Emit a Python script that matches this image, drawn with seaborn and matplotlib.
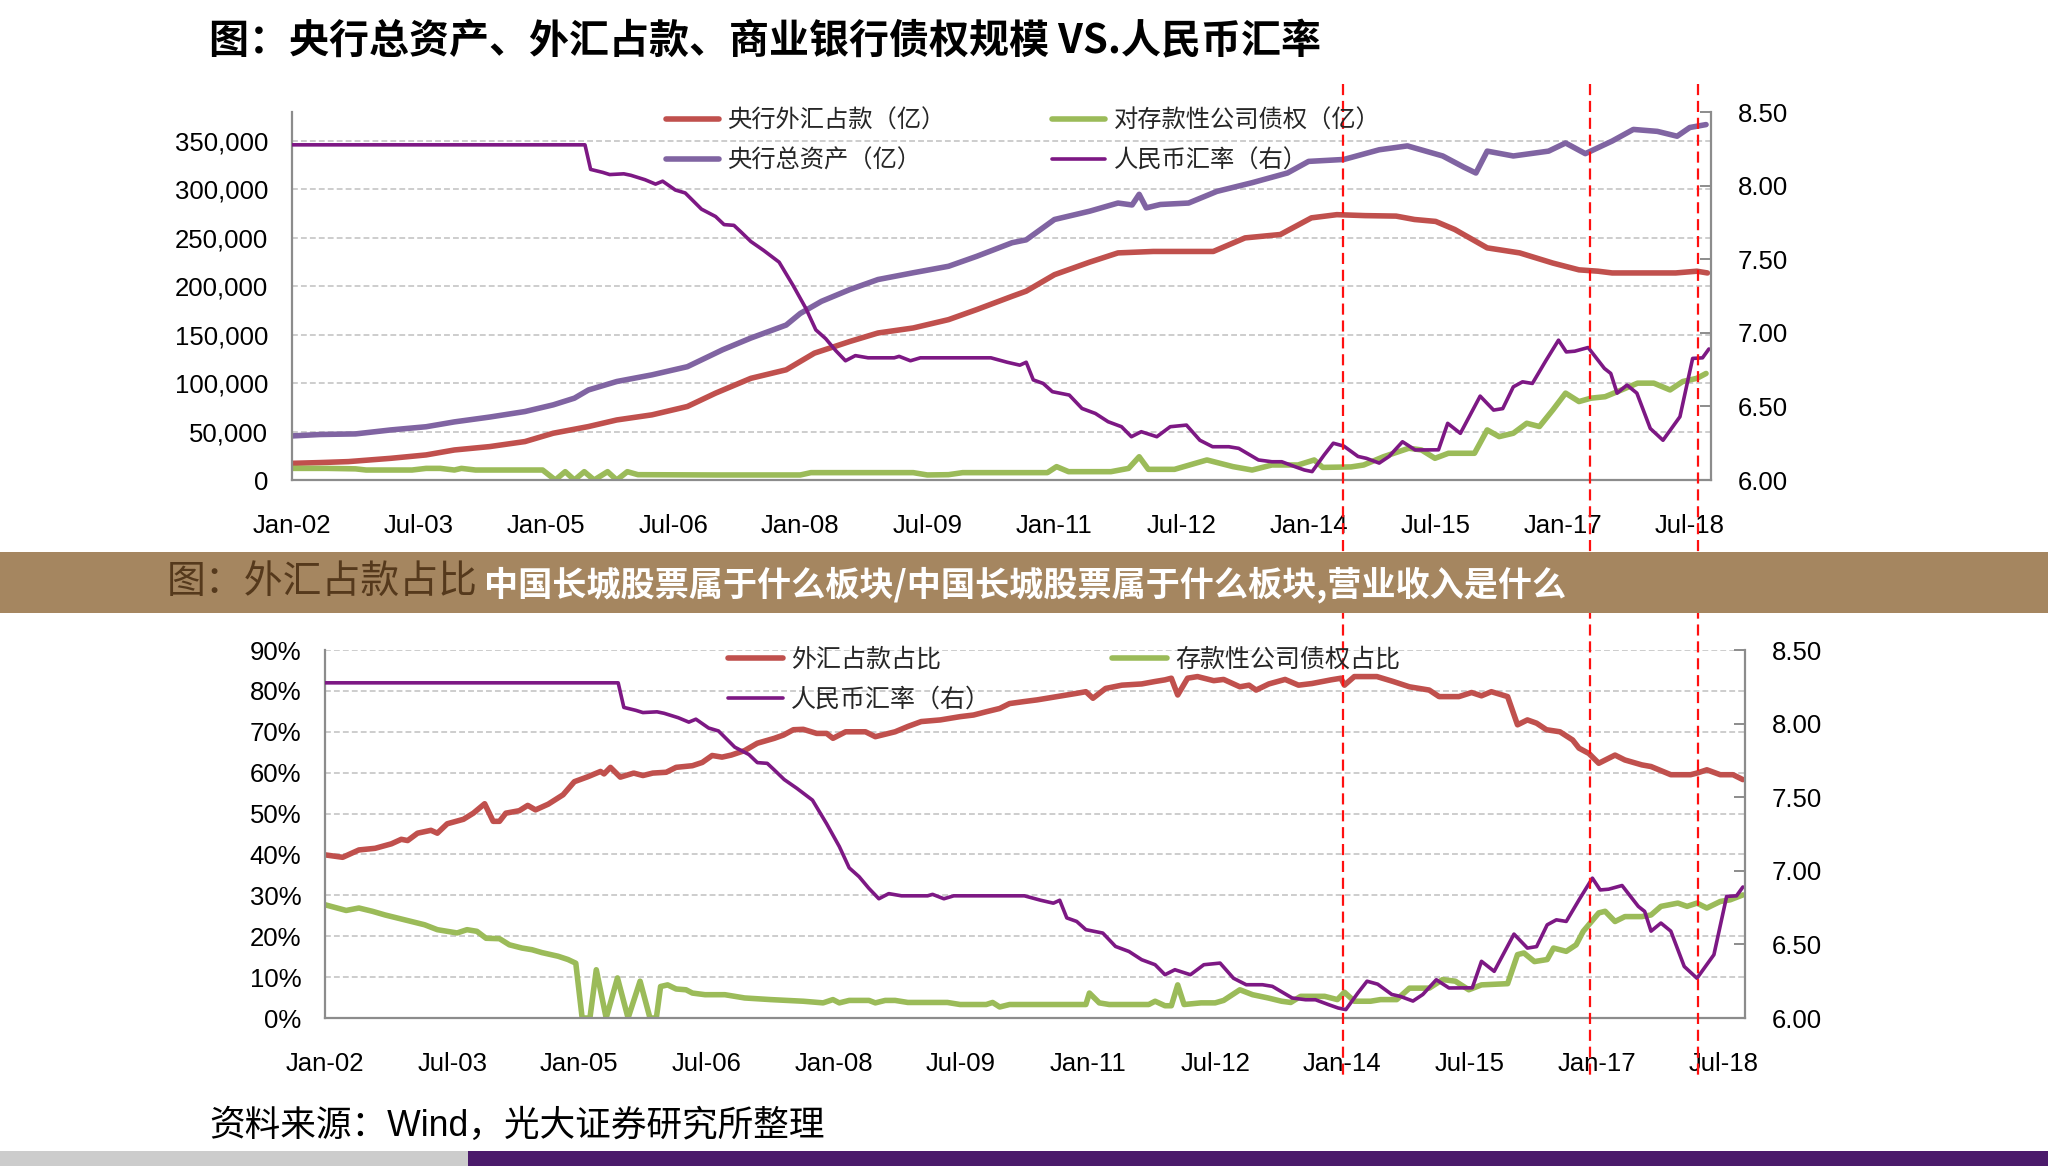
import matplotlib
matplotlib.use("Agg")
import matplotlib.pyplot as plt
import seaborn as sns
from matplotlib.lines import Line2D
from matplotlib.patches import Rectangle
from matplotlib import transforms
from matplotlib.ticker import FuncFormatter

# ---------------- data (x = months since Jan-2002) ----------------
tick_months = [0, 18, 36, 54, 72, 90, 108, 126, 144, 162, 180, 198]
tick_labels = ["Jan-02", "Jul-03", "Jan-05", "Jul-06", "Jan-08", "Jul-09",
               "Jan-11", "Jul-12", "Jan-14", "Jul-15", "Jan-17", "Jul-18"]

# top chart: PBoC total assets (亿)
assets_m = [0, 4, 9, 14, 19, 23, 28, 33, 37, 40, 42, 46, 51, 56, 58, 61, 65, 70, 72, 75,
            79, 83, 88, 93, 97, 102, 104, 108, 113, 117, 119, 120, 121, 123, 127, 131, 136, 141, 144, 149,
            154, 158, 163, 166, 167.7, 169.3, 173, 178, 180.4, 183.2, 187, 190, 193.4, 196.2, 198, 200.3]
assets_v = [45500, 47000, 47600, 51700, 55000, 60000, 65000, 70700, 77600, 84500,
            93000, 101700, 108600, 117000, 124000, 134500, 146600, 160000, 172000, 184500,
            196600, 207000, 214000, 220700, 231000, 245000, 248000, 269000, 277600, 286000,
            284000, 295000, 281000, 284500, 286000, 298000, 307000, 317000, 329000, 331000,
            341000, 345000, 334600, 323000, 317000, 339600, 334600, 339600, 348000, 337000,
            350000, 362000, 360000, 355000, 364000, 367000]

# top chart: PBoC FX holdings (亿)
fx_m = [0, 4, 8, 14, 19, 23, 28, 33, 37, 42, 46, 51, 56, 60, 65, 70, 74, 79, 83, 88,
        93, 97, 102, 104, 108, 113, 117, 122, 127, 130.5, 135, 140, 144.4, 148, 152, 156.4, 159, 162, 164.7, 169.3,
        173.9, 178.6, 182.3, 185, 187, 196, 199, 200.5]
fx_v = [17200, 18000, 19000, 22400, 25900, 31000, 34500, 39700, 48300, 55200,
        62000, 67300, 75900, 89700, 105000, 113800, 131000, 143000, 151800, 157000,
        165600, 176000, 189700, 195000, 212000, 225000, 234500, 236000, 236000, 236000,
        250000, 253500, 270700, 274000, 273000, 272500, 269000, 267000, 258700, 239700,
        234500, 224000, 217000, 215600, 213800, 213800, 215600, 213800]

# top chart: claims on depository corporations (亿)
claims_m = [0, 5, 9, 10.5, 14, 17, 19, 21, 23, 24, 26, 35.5, 37.3, 38.7, 40, 41.4, 42.8, 44.7, 46, 47.5,
            49, 60, 72, 73.5, 88, 90, 93, 95, 103, 107, 108.3, 110, 116, 118.5, 120, 121.3, 125, 129.6, 133.3, 136,
            138.8, 142.5, 144.8, 146, 150, 151.8, 154.6, 158.2, 160, 161.9, 163.8, 167.5, 169.3, 171, 173, 174.9,
            176.7, 178.6, 180.4, 182.3, 184, 186, 187.8, 190.6, 192.9, 195.2, 197, 199, 200.3]
claims_v = [12000, 12000, 11500, 10300, 10300, 10300, 12000, 12000, 10300, 12000,
            10300, 10300, 0, 8600, 0, 8600, 0, 8600, 0, 8600,
            5500, 5200, 5200, 7600, 7600, 5200, 5500, 7600, 7600, 7600,
            13800, 8600, 8600, 12000, 24000, 11000, 11000, 20700, 13800, 10300,
            15500, 15500, 20700, 13000, 13500, 15500, 24000, 32800, 31000, 22400,
            27600, 27600, 51700, 44800, 48300, 58600, 55200, 72400, 89700, 81000,
            84500, 86000, 91400, 100000, 100000, 93000, 101700, 105000, 110000]

# RMB exchange rate (right axis, both charts)
cny_m = [0, 41.5, 42.3, 44, 45, 47, 48, 50, 51.5, 52.5, 54.3, 55.7, 58, 60, 61.2, 62.6, 63.6, 65, 66.8, 69,
         71, 72.8, 74.2, 75.6, 77, 78.4, 79.8, 81.6, 85.3, 86, 87.6, 89, 99, 101.3, 103.1, 104, 105, 106.4, 107.7, 110.1,
         111.9, 113.8, 115.6, 117.5, 118.9, 120.3, 122.5, 124.4, 126.7, 128.6, 130.4, 132.7, 134.1, 136.9, 138.8, 140.2,
         142.1, 143.4, 144.5, 146.2, 147.5, 149, 151, 152.2, 154, 155.4, 157.3, 159.1, 162.4, 163.7, 165.5, 168.3,
         170.2, 171.5, 173, 174.3, 175.7, 177.6, 179.4, 180.5, 181.7, 183.6, 185.9, 186.8, 187.7, 189.1, 190.5, 192.4,
         194.2, 196.6, 198.4, 199.8, 200.7]
cny_v = [8.277, 8.277, 8.11, 8.09, 8.075, 8.08, 8.07, 8.04, 8.01, 8.03,
         7.97, 7.95, 7.84, 7.79, 7.735, 7.73, 7.685, 7.62, 7.56, 7.48,
         7.32, 7.165, 7.02, 6.96, 6.88, 6.81, 6.845, 6.83, 6.83, 6.84,
         6.81, 6.83, 6.83, 6.80, 6.78, 6.80, 6.68, 6.656, 6.60, 6.577,
         6.486, 6.452, 6.396, 6.362, 6.294, 6.328, 6.294, 6.362, 6.373, 6.27,
         6.226, 6.226, 6.215, 6.136, 6.124, 6.124, 6.09, 6.068, 6.057, 6.17,
         6.25, 6.23, 6.16, 6.147, 6.115, 6.16, 6.26, 6.204, 6.205, 6.385,
         6.317, 6.57, 6.475, 6.485, 6.633, 6.667, 6.656, 6.81, 6.95, 6.87,
         6.875, 6.90, 6.758, 6.724, 6.59, 6.645, 6.59, 6.35, 6.27, 6.43,
         6.826, 6.83, 6.89]

# bottom chart: FX holdings share (%)
share_m = [0, 2.5, 4.8, 7.1, 9.4, 10.8, 11.7, 13.1, 15, 15.9,
           17.3, 19.6, 21, 22.6, 23.8, 24.7, 25.6, 27.5, 28.7, 29.8,
           31.6, 33.7, 35.3, 37.2, 39, 39.5, 40.4, 41.8, 43.7, 45,
           46.4, 48.3, 49.7, 52, 53.4, 54.8, 56.2, 57.5, 59.4, 61.2,
           63.6, 64.9, 66.3, 67.7, 69.6, 71, 71.9, 73.7, 76.5, 77.9,
           80.7, 82.5, 84.4, 87.1, 89.9, 91.8, 93.6, 95.5, 96.9, 99,
           100.8, 103.6, 106.4, 107.7, 108.7, 110.5, 112.8, 115.6, 117.5, 118.9,
           119.8, 120.7, 122.1, 123.5, 125.8, 127.2, 129.5, 130.8, 131.8, 133.6,
           135.9, 137.8, 139.7, 142.4, 143.8, 144.3, 145.7, 148.9, 151.2, 153.5,
           156.3, 157.7, 160.5, 162.3, 163.7, 165.1, 167.4, 168.8, 170.2, 171.5,
           172.9, 174.8, 176.6, 177.5, 178.9, 180.3, 182.6, 184, 186.4, 187.7,
           190.5, 193.3, 194.2, 195.6, 197.5, 199.3, 200.7]
share_v = [39.9, 39.3, 41.1, 41.5, 42.6, 43.7, 43.4, 45.2, 45.9, 45.2,
           47.5, 48.6, 50.1, 52.4, 48.1, 48.1, 50.1, 50.7, 52, 50.9,
           52.3, 54.6, 57.8, 59, 60.3, 59.7, 61.3, 58.9, 59.9, 59.3,
           59.9, 60.1, 61.3, 61.7, 62.5, 64.2, 63.8, 64.3, 65.4, 67.2,
           68.4, 69.2, 70.5, 70.6, 69.6, 69.6, 68.4, 70, 70, 68.8,
           70, 71.3, 72.5, 72.9, 73.7, 74.1, 74.9, 75.7, 76.9, 77.4,
           77.8, 78.6, 79.4, 79.8, 78.2, 80.6, 81.4, 81.7, 82.3, 82.7,
           83.1, 79, 83.1, 83.5, 82.5, 82.8, 81, 81.4, 80.2, 81.7,
           82.8, 81.4, 81.8, 82.7, 83.1, 81.4, 83.5, 83.5, 82.3, 81,
           80.2, 78.6, 78.6, 79.6, 78.8, 79.8, 78.6, 71.7, 72.9, 72.1,
           70.5, 70, 68, 66, 64.7, 62.3, 64.3, 63.1, 61.9, 61.5,
           59.5, 59.5, 59.9, 60.7, 59.5, 59.5, 58.3]

# bottom chart: claims on depository corporations share (%)
dep_m = [0, 3, 4.8, 6.7, 8.5, 11.3, 14.1, 15.9, 18.7, 20.1,
         21.5, 22.8, 24.7, 26.1, 27.9, 29.3, 30.7, 33, 34.4, 35.5,
         36.4, 37.5, 38.4, 39.8, 41.4, 42.9, 44.6, 46, 46.9, 47.5,
         48.5, 49.7, 51.1, 52, 53.8, 56.6, 59.4, 63.1, 67.7, 70.5,
         71.9, 72.8, 74.2, 77, 77.9, 79.3, 80.7, 82.5, 88.1, 89.9,
         93.6, 94.5, 95.5, 96.9, 99, 107.7, 108.2, 109.6, 111, 116.6,
         117.5, 118.9, 119.8, 120.7, 121.6, 124, 126, 127.2, 129.5, 131.3,
         133.5, 135.4, 136.7, 138.1, 141.5, 143.3, 144.3, 145.7, 148, 149.4,
         151.7, 153.5, 156.3, 158.2, 160, 161.9, 163.7, 167.4, 168.8, 169.7,
         171.2, 173, 173.9, 175.7, 177.1, 178.1, 180.3, 181.2, 182.6, 184,
         186.4, 187.7, 189.1, 191.5, 192.8, 194.2, 195.6, 197.5, 198.9, 200.7]
dep_v = [27.7, 26.3, 26.9, 26.1, 25.2, 24, 22.8, 21.6, 20.8, 21.6,
         21.2, 19.5, 19.4, 17.9, 17.1, 16.7, 16, 15.1, 14.3, 13.4,
         0, 0, 11.8, 0, 9.8, 0, 9, 0, 0, 7.7,
         8.1, 7.1, 6.9, 6.1, 5.7, 5.7, 4.9, 4.5, 4.1, 3.7,
         4.5, 3.7, 4.3, 4.3, 3.7, 4.3, 4.3, 3.8, 3.8, 3.3,
         3.3, 3.8, 2.7, 3.3, 3.3, 3.3, 6.1, 3.7, 3.3, 3.3,
         4.1, 3.0, 3.0, 8.1, 3.3, 3.7, 3.7, 4.3, 6.9, 5.7,
         4.9, 4.1, 3.8, 5.3, 5.3, 4.5, 6.3, 4.1, 4.1, 4.5,
         4.5, 7.3, 7.3, 9.4, 9, 6.9, 8.1, 8.4, 15.5, 15.9,
         13.8, 14.3, 17.1, 16.3, 17.9, 21.2, 25.7, 26.1, 23.6, 24.8,
         24.8, 25.2, 27.3, 28.1, 27.3, 28.1, 26.9, 28.5, 28.9, 30.1]

# dates marked by red dashed lines (months since Jan-2002, top-chart scale)
event_months = [148.9, 183.9, 199.2]

title_top = "图：央行总资产、外汇占款、商业银行债权规模 VS.人民币汇率"
title_bottom = "图：外汇占款占比"
banner_text = "中国长城股票属于什么板块/中国长城股票属于什么板块,营业收入是什么"
source_text = "资料来源：Wind，光大证券研究所整理"
top_labels = ["央行外汇占款（亿）", "央行总资产（亿）", "对存款性公司债权（亿）", "人民币汇率（右）"]
bottom_labels = ["外汇占款占比", "人民币汇率（右）", "存款性公司债权占比"]

# ---------------- style ----------------
sns.set_theme(style="white")
plt.rcParams["font.family"] = ["Liberation Sans", "Noto Sans CJK SC", "DejaVu Sans"]
CJK = ["Noto Sans CJK SC", "DejaVu Sans"]

RED = "#C0504D"
LAV = "#8064A2"
GRN = "#9BBB59"
PUR = "#7D1884"
SPINE = "#8C8C8C"
GRID = "#CDCDCD"
THICK = 4.0
THIN = 2.6

W, H = 2048, 1166
fig = plt.figure(figsize=(W / 100, H / 100), dpi=100)
fig.patch.set_facecolor("white")

ax1 = fig.add_axes([292 / W, 1 - 480 / H, 1419 / W, 368 / H])
ax1r = ax1.twinx()
ax2 = fig.add_axes([325 / W, 1 - 1018 / H, 1420 / W, 368 / H])
ax2r = ax2.twinx()


def style_axes(ax, axr):
    ax.set_xlim(0, 201)
    ax.set_facecolor("none")
    for a in (ax, axr):
        a.spines["top"].set_visible(False)
    ax.spines["right"].set_visible(False)
    axr.spines["left"].set_visible(False)
    axr.spines["bottom"].set_visible(False)
    for s in ("left", "bottom"):
        ax.spines[s].set_color(SPINE)
        ax.spines[s].set_linewidth(1.6)
    axr.spines["right"].set_color(SPINE)
    axr.spines["right"].set_linewidth(1.6)
    ax.set_xticks(tick_months, tick_labels)
    ax.tick_params(axis="x", direction="in", length=7, width=1.4, color=SPINE,
                   pad=24.5, labelsize=18.5, labelcolor="black")
    ax.tick_params(axis="y", length=0, pad=17, labelsize=18.5, labelcolor="black")
    axr.tick_params(axis="y", direction="in", length=8, width=1.4, color=SPINE,
                    pad=19, labelsize=18.5, labelcolor="black")
    ax.grid(axis="y", color=GRID, linestyle=(0, (3, 1.6)), linewidth=1.4)
    ax.grid(axis="x", visible=False)
    axr.grid(False)
    axr.set_ylim(6.0, 8.5)
    axr.set_yticks([6.0, 6.5, 7.0, 7.5, 8.0, 8.5])
    axr.yaxis.set_major_formatter(FuncFormatter(lambda v, p: f"{v:.2f}"))
    for a in (ax, axr):
        a.set_xlabel("")
        a.set_ylabel("")


line_kw = dict(estimator=None, sort=False, solid_joinstyle="round", solid_capstyle="round")

# top chart
sns.lineplot(x=fx_m, y=fx_v, ax=ax1, color=RED, linewidth=THICK, **line_kw)
sns.lineplot(x=assets_m, y=assets_v, ax=ax1, color=LAV, linewidth=THICK, **line_kw)
sns.lineplot(x=claims_m, y=claims_v, ax=ax1, color=GRN, linewidth=THICK, **line_kw)
sns.lineplot(x=cny_m, y=cny_v, ax=ax1r, color=PUR, linewidth=THIN, **line_kw)
ax1.set_ylim(0, 380000)
ax1.set_yticks(list(range(0, 350001, 50000)))
ax1.yaxis.set_major_formatter(FuncFormatter(lambda v, p: f"{v:,.0f}"))
style_axes(ax1, ax1r)

# bottom chart
sns.lineplot(x=share_m, y=share_v, ax=ax2, color=RED, linewidth=THICK, **line_kw)
sns.lineplot(x=dep_m, y=dep_v, ax=ax2, color=GRN, linewidth=THICK, **line_kw)
sns.lineplot(x=cny_m, y=cny_v, ax=ax2r, color=PUR, linewidth=THIN, **line_kw)
ax2.set_ylim(0, 90)
ax2.set_yticks(list(range(0, 91, 10)))
ax2.yaxis.set_major_formatter(FuncFormatter(lambda v, p: f"{v:.0f}%"))
style_axes(ax2, ax2r)

# legends
leg_kw = dict(loc="upper left", frameon=False, handlelength=2.2, handletextpad=0.33,
              borderpad=0, borderaxespad=0, labelspacing=0.56)


def h(c, lw):
    return Line2D([], [], color=c, lw=lw, solid_capstyle="round")


prop_top = {"family": CJK, "size": 17.5}
prop_bot = {"family": CJK, "size": 18}
fig.legend([h(RED, THICK), h(LAV, THICK)], top_labels[:2], prop=prop_top,
           bbox_to_anchor=(666 / W, 1 - 108 / H), **leg_kw)
fig.legend([h(GRN, THICK), h(PUR, THIN)], top_labels[2:], prop=prop_top,
           bbox_to_anchor=(1052 / W, 1 - 108 / H), **leg_kw)
fig.legend([h(RED, THICK), h(PUR, THIN)], bottom_labels[:2], prop=prop_bot,
           bbox_to_anchor=(728 / W, 1 - 647 / H), **leg_kw)
fig.legend([h(GRN, THICK)], bottom_labels[2:], prop=prop_bot,
           bbox_to_anchor=(1112 / W, 1 - 647 / H), **leg_kw)

# red dashed event lines spanning both charts
trans = transforms.blended_transform_factory(ax1.transData, fig.transFigure)
for m in event_months:
    fig.add_artist(Line2D([m, m], [1 - 84 / H, 1 - 1075 / H], transform=trans,
                          color="#FF1010", lw=1.6, linestyle=(0, (5, 2.6)), zorder=3))

# titles and overlay banner
fig.text(209 / W, 1 - 42 / H, title_top, fontsize=28.8, fontweight="bold",
         family=CJK, va="center", ha="left", color="black")
fig.add_artist(Rectangle((0, 1 - 613 / H), 1, 61 / H, transform=fig.transFigure,
                         facecolor="#A58660", edgecolor="none", zorder=5))
fig.text(167 / W, 1 - 582 / H, title_bottom, fontsize=28, family=CJK,
         va="center", ha="left", color="#55391C", zorder=6)
fig.text(1025 / W, 1 - 585 / H, banner_text, fontsize=24.6, fontweight="bold",
         family=CJK, va="center", ha="center", color="white", zorder=7)

# source note
fig.text(209 / W, 1 - 1126 / H, source_text, fontsize=25.7,
         family=["Liberation Sans", "Noto Sans CJK SC"], va="center", ha="left", color="black")

# bottom decorative bar
fig.add_artist(Rectangle((0, 0), 468 / W, 15 / H, transform=fig.transFigure,
                         facecolor="#CCCCCC", edgecolor="none", zorder=5))
fig.add_artist(Rectangle((468 / W, 0), 1 - 468 / W, 15 / H, transform=fig.transFigure,
                         facecolor="#4B1A6B", edgecolor="none", zorder=5))

fig.savefig("out.png", dpi=100, facecolor="white")
